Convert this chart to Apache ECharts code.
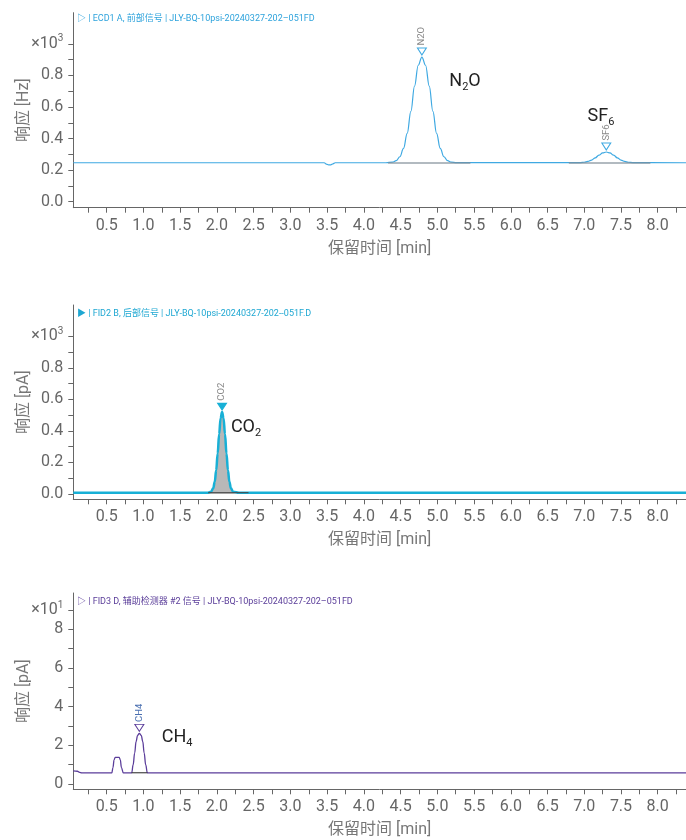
<!DOCTYPE html>
<html><head><meta charset="utf-8">
<script src="https://cdn.jsdelivr.net/npm/echarts@6/dist/echarts.min.js"></script>
<style>html,body{margin:0;padding:0;background:#fff}#c{width:686px;height:840px}</style>
</head><body><div id="c"></div>
<script>
// ---- data ----
const xTickValues = [0.25,0.5,0.75,1.0,1.25,1.5,1.75,2.0,2.25,2.5,2.75,3.0,3.25,3.5,3.75,4.0,4.25,4.5,4.75,5.0,5.25,5.5,5.75,6.0,6.25,6.5,6.75,7.0,7.25,7.5,7.75,8.0,8.25];
const xLabelValues = [0.5,1.0,1.5,2.0,2.5,3.0,3.5,4.0,4.5,5.0,5.5,6.0,6.5,7.0,7.5,8.0];
const yTicks1 = [0,0.1,0.2,0.3,0.4,0.5,0.6,0.7,0.8,0.9,1.0];
const yLabels1 = [0,0.2,0.4,0.6,0.8,1.0];
const yTicks3 = [0,1,2,3,4,5,6,7,8,9];
const yLabels3 = [0,2,4,6,8,9];

// ECD1 A (x10^3 Hz)
const ecdTime = [0.045,3.46,3.49,3.52,3.55,3.58,3.61,4.30,4.39,4.44,4.49,4.54,4.59,4.64,4.69,4.74,4.79,4.84,4.89,4.94,4.99,5.04,5.09,5.14,5.19,5.26,6.95,7.00,7.05,7.10,7.15,7.20,7.25,7.30,7.35,7.40,7.45,7.50,7.55,7.60,7.66,8.385];
const ecdSignal = [0.247,0.247,0.238,0.233,0.234,0.240,0.247,0.247,0.251,0.260,0.285,0.338,0.433,0.573,0.733,0.865,0.917,0.865,0.733,0.573,0.433,0.338,0.285,0.260,0.251,0.248,0.248,0.250,0.255,0.264,0.278,0.295,0.309,0.315,0.309,0.295,0.278,0.264,0.255,0.250,0.248,0.247];
const ecdBaselineN2O = [[4.33,0.246],[5.45,0.246]];
const ecdBaselineSF6 = [[6.79,0.246],[7.90,0.246]];

// FID2 B (x10^3 pA)
const fid2Time = [0.045,1.88,1.92,1.95,1.97,1.99,2.01,2.03,2.05,2.07,2.09,2.11,2.13,2.15,2.17,2.19,2.22,2.30,8.385];
const fid2Signal = [0.008,0.008,0.014,0.037,0.077,0.150,0.257,0.380,0.481,0.520,0.481,0.380,0.257,0.150,0.077,0.037,0.014,0.008,0.008];
const fid2Baseline = [[1.88,0.008],[2.43,0.008]];

// FID3 D (x10^1 pA)
const fid3Time = [0.045,0.10,0.13,0.16,0.57,0.585,0.60,0.615,0.67,0.685,0.70,0.725,0.84,0.86,0.88,0.90,0.92,0.944,0.97,0.99,1.01,1.03,1.053,8.385];
const fid3Signal = [0.68,0.66,0.60,0.58,0.58,0.85,1.25,1.38,1.38,1.25,0.85,0.58,0.58,1.0,1.6,2.2,2.52,2.62,2.52,2.2,1.6,1.0,0.58,0.58];
const fid3Baseline = [[0.84,0.58],[1.053,0.58]];

const peaks1 = [{name:'N2O', t:4.79, v:0.917}, {name:'SF6', t:7.30, v:0.315}];
const peaks2 = [{name:'CO2', t:2.07, v:0.520}];
const peaks3 = [{name:'CH4', t:0.944, v:2.62}];

const FONT = 'Roboto, "Noto Sans CJK SC", sans-serif';
const C1 = '#3fa9e2', C2 = '#18b0d6', C3 = '#5b3d9a';

function zip(t, v){ return t.map((x,i)=>[x, v[i]]); }

const gridL = 73.3, gridW = 612.7;
const grids = [
  {left:gridL, top:12.7, width:gridW, height:195, outerBoundsMode:'none', containLabel:false},
  {left:gridL, top:305, width:gridW, height:194.3, outerBoundsMode:'none', containLabel:false},
  {left:gridL, top:593, width:gridW, height:196.3, outerBoundsMode:'none', containLabel:false}
];

function xAxis(i){
  return {
    type:'value', gridIndex:i, min:0.045, max:8.385,
    name:'保留时间 [min]', nameLocation:'middle', nameGap:33, nameMoveOverlap:false,
    nameTextStyle:{color:'#777', fontSize:16, fontFamily:FONT},
    axisLine:{show:true, onZero:false, lineStyle:{color:'#666', width:1}},
    axisTick:{show:true, customValues:xTickValues, length:5, lineStyle:{color:'#666'}},
    axisLabel:{show:true, customValues:xLabelValues, color:'#666', fontSize:16, fontFamily:FONT, margin:10,
      hideOverlap:false, showMinLabel:true, showMaxLabel:true, formatter:v=>v.toFixed(1)},
    splitLine:{show:false}
  };
}
const supRich = {
  m:{fontSize:16, color:'#666', fontFamily:FONT, lineHeight:20},
  p:{fontSize:10, color:'#666', fontFamily:FONT, verticalAlign:'top', lineHeight:10}
};
function yAxis(i, name, min, max, ticks, labels, expVal, expLabel, fmt){
  return {
    type:'value', gridIndex:i, min:min, max:max,
    name:name, nameLocation:'middle', nameGap:41, nameRotate:90, nameMoveOverlap:false,
    nameTextStyle:{color:'#777', fontSize:16, fontFamily:FONT},
    axisLine:{show:true, onZero:false, lineStyle:{color:'#666', width:1}},
    axisTick:{show:true, customValues:ticks, length:5, lineStyle:{color:'#666'}},
    axisLabel:{show:true, customValues:labels, color:'#666', fontSize:16, fontFamily:FONT, margin:10,
      hideOverlap:false,
      formatter:v=> (v===expVal ? expLabel : fmt(v)), rich:supRich},
    splitLine:{show:false}
  };
}

function bigLabel(coord, main1, sub, main2){
  return {
    coord:coord, symbol:'circle', symbolSize:0.01,
    label:{show:true, position:'inside',
      formatter:'{a|'+main1+'}{s|'+sub+'}' + (main2?'{a|'+main2+'}':''),
      rich:{
        a:{fontSize:18, color:'#222', fontFamily:FONT, lineHeight:24},
        s:{fontSize:11, color:'#222', fontFamily:FONT, verticalAlign:'bottom', lineHeight:12}
      }}
  };
}
function peakMark(p, color, filled, labelColor){
  return {
    coord:[p.t, p.v], symbol:'triangle', symbolRotate:180, symbolSize:[9,7], symbolOffset:[0,-5.5],
    itemStyle:{color: filled?color:'#fff', borderColor:color, borderWidth:1},
    label:{show:true, formatter:p.name, position:'top', rotate:90, align:'left', verticalAlign:'middle',
      distance:2, fontSize:9.5, color:labelColor, fontFamily:FONT}
  };
}

const option = {
  animation:false,
  backgroundColor:'#fff',
  title:[
    {text:'▷ | ECD1 A, 前部信号 | JLY-BQ-10psi-20240327-202–051FD', left:77, top:14, padding:0,
     textStyle:{fontSize:9, fontWeight:'normal', color:'#2ea3dc', fontFamily:FONT}},
    {text:'▶ | FID2 B, 后部信号 | JLY-BQ-10psi-20240327-202--051F.D', left:77, top:309, padding:0,
     textStyle:{fontSize:9, fontWeight:'normal', color:'#1ea7d2', fontFamily:FONT}},
    {text:'▷ | FID3 D, 辅助检测器 #2 信号 | JLY-BQ-10psi-20240327-202–051FD', left:77, top:597, padding:0,
     textStyle:{fontSize:9, fontWeight:'normal', color:'#5a3d99', fontFamily:FONT}}
  ],
  grid:grids,
  xAxis:[xAxis(0), xAxis(1), xAxis(2)],
  yAxis:[
    yAxis(0,'响应 [Hz]', -0.038, 1.198, yTicks1, yLabels1, 1.0, '{m|×10}{p|3}', v=>v.toFixed(1)),
    yAxis(1,'响应 [pA]', -0.034, 1.2, yTicks1, yLabels1, 1.0, '{m|×10}{p|3}', v=>v.toFixed(1)),
    yAxis(2,'响应 [pA]', -0.274, 9.88, yTicks3, yLabels3, 9, '{m|×10}{p|1}', v=>String(v))
  ],
  series:[
    {type:'line', xAxisIndex:0, yAxisIndex:0, data:zip(ecdTime, ecdSignal), showSymbol:false,
     smooth:0.4, smoothMonotone:'x', lineStyle:{color:C1, width:1.2}, z:3,
     markPoint:{data:[
       peakMark(peaks1[0], C1, false, '#888'), peakMark(peaks1[1], C1, false, '#888'),
       bigLabel([5.377,0.765],'N','2','O'), bigLabel([7.228,0.543],'SF','6','')
     ]}},
    {type:'line', xAxisIndex:0, yAxisIndex:0, data:ecdBaselineN2O, showSymbol:false,
     lineStyle:{color:'#7f8c96', width:1.5, opacity:0.8}, z:4},
    {type:'line', xAxisIndex:0, yAxisIndex:0, data:ecdBaselineSF6, showSymbol:false,
     lineStyle:{color:'#7f8c96', width:1.5, opacity:0.8}, z:4},

    {type:'line', xAxisIndex:1, yAxisIndex:1, data:zip(fid2Time, fid2Signal).slice(1,18), showSymbol:false,
     smooth:0.4, smoothMonotone:'x', lineStyle:{width:0}, areaStyle:{color:'#b8b8b8', opacity:1}, z:2},
    {type:'line', xAxisIndex:1, yAxisIndex:1, data:zip(fid2Time, fid2Signal), showSymbol:false,
     smooth:0.4, smoothMonotone:'x', lineStyle:{color:C2, width:2.5}, z:3,
     markPoint:{data:[
       peakMark(peaks2[0], C2, true, '#888'),
       bigLabel([2.396,0.425],'CO','2','')
     ]}},
    {type:'line', xAxisIndex:1, yAxisIndex:1, data:fid2Baseline, showSymbol:false,
     lineStyle:{color:'#444', width:1}, z:4},

    {type:'line', xAxisIndex:2, yAxisIndex:2, data:zip(fid3Time, fid3Signal), showSymbol:false,
     smooth:0.4, smoothMonotone:'x', lineStyle:{color:C3, width:1.3}, z:3,
     markPoint:{data:[
       peakMark(peaks3[0], C3, false, '#4a6fb0'),
       bigLabel([1.457,2.43],'CH','4','')
     ]}},
    {type:'line', xAxisIndex:2, yAxisIndex:2, data:fid3Baseline, showSymbol:false,
     lineStyle:{color:'#222', width:1}, z:4}
  ]
};
const chart = echarts.init(document.getElementById('c'), null, {renderer:'canvas'});
chart.setOption(option);
</script>
</body></html>
